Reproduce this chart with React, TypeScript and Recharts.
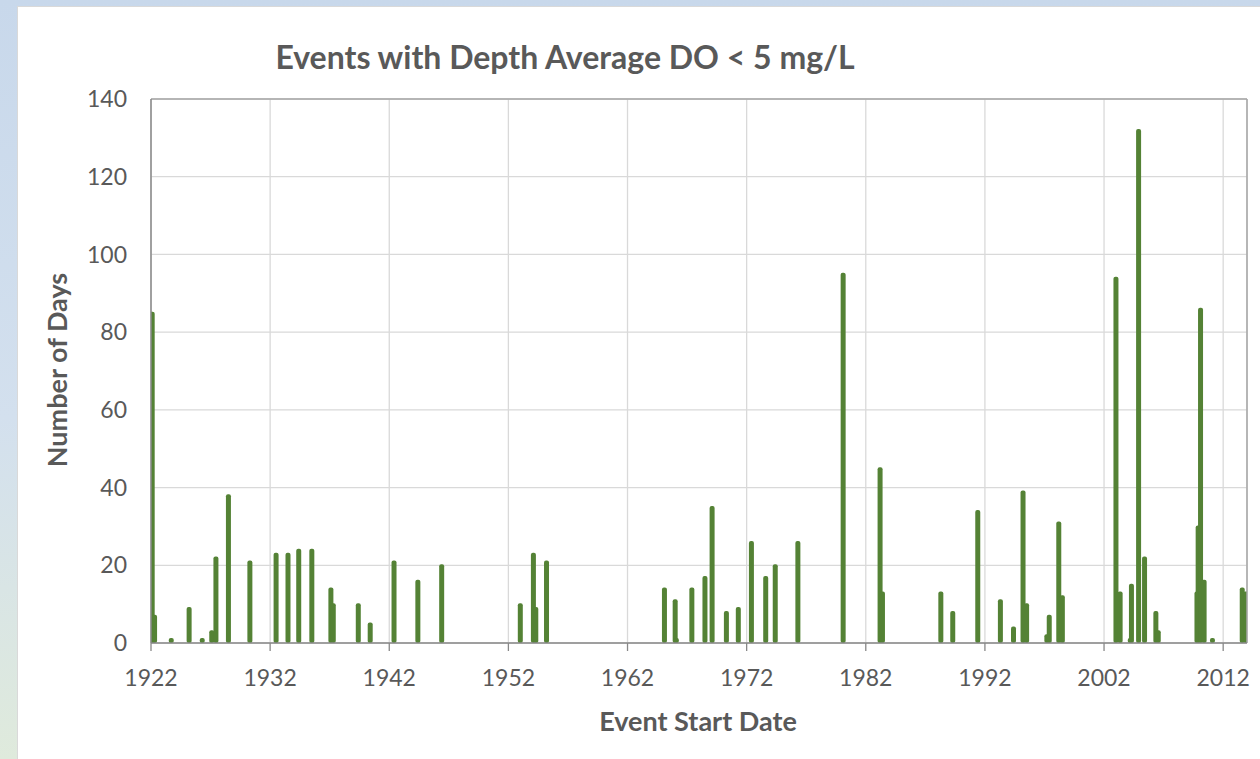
import { Bar, CartesianGrid, ComposedChart, ReferenceLine, XAxis, YAxis } from "recharts"

// event start (decimal year) and length in days
const eventYears = [
  1922.1, 1922.3, 1923.7, 1925.2, 1926.3, 1927.1, 1927.45, 1928.5, 1930.3, 1932.5,
  1933.5, 1934.4, 1935.5, 1937.1, 1937.3, 1939.4, 1940.4, 1942.4, 1944.4, 1946.4,
  1953.0, 1954.1, 1954.3, 1955.2, 1965.1, 1966.0, 1966.1, 1967.4, 1968.5, 1969.1,
  1970.3, 1971.3, 1972.4, 1973.6, 1974.4, 1976.3, 1980.1, 1983.2, 1983.4, 1988.3,
  1989.3, 1991.4, 1993.3, 1994.4, 1995.2, 1995.5, 1997.2, 1997.4, 1998.2, 1998.5,
  2003.0, 2003.35, 2004.2, 2004.3, 2004.9, 2005.4, 2006.35, 2006.55, 2009.8, 2009.9,
  2010.1, 2010.4, 2011.1, 2013.6, 2013.9,
]

const eventDays = [
  85, 7, 1, 9, 1, 3, 22, 38, 21, 23,
  23, 24, 24, 14, 10, 10, 5, 21, 16, 20,
  10, 23, 9, 21, 14, 11, 1, 14, 17, 35,
  8, 9, 26, 17, 20, 26, 95, 45, 13, 13,
  8, 34, 11, 4, 39, 10, 2, 7, 31, 12,
  94, 13, 1, 15, 132, 22, 8, 3, 13, 30,
  86, 16, 1, 14, 13,
]

const xTicks = [1922, 1932, 1942, 1952, 1962, 1972, 1982, 1992, 2002, 2012]
const yTicks = [0, 20, 40, 60, 80, 100, 120, 140]

const data = eventYears.map((year, i) => ({ year, days: eventDays[i] }))

const font = "Lato, 'Open Sans', sans-serif"
const textColor = "#595959"
const barColor = "#548235"
const barWidth = 5

// the band on a number axis is tiny, so draw a fixed-width column centred on the date
function EventBar(props: any) {
  const { x, y, width, height } = props
  if (height == null || height <= 0) return null
  const cx = x + width / 2
  return (
    <rect
      x={cx - barWidth / 2}
      y={y - 1}
      width={barWidth}
      height={height + 1}
      rx={2}
      ry={2}
      fill={barColor}
    />
  )
}

export default function App() {
  return (
    <div
      style={{
        position: "relative",
        width: 1260,
        height: 759,
        background: "linear-gradient(180deg, #c8d8eb 0%, #d3e0ee 55%, #dfeadc 100%)",
        fontFamily: font,
        overflow: "hidden",
      }}
    >
      <style>{`body{margin:0}`}</style>
      <div
        style={{
          position: "absolute",
          left: 17,
          top: 6,
          width: 1250,
          height: 760,
          background: "#fff",
          border: "1px solid #d9d9d9",
        }}
      />
      <div style={{ position: "absolute", left: 0, top: 0 }}>
        <ComposedChart
          width={1260}
          height={759}
          data={data}
          margin={{ top: 99, right: 13, left: 0, bottom: 0 }}
        >
          <CartesianGrid stroke="#d9d9d9" strokeWidth={1.3} />
          <XAxis
            dataKey="year"
            type="number"
            domain={[1922, 2014]}
            ticks={xTicks}
            allowDataOverflow
            height={116}
            axisLine={{ stroke: "#888888", strokeWidth: 1.5 }}
            tickLine={{ stroke: "#888888", strokeWidth: 1.3 }}
            tickSize={8}
            tickMargin={19}
            tick={{ fill: textColor, fontSize: 23, fontFamily: font }}
            interval={0}
          />
          <YAxis
            type="number"
            domain={[0, 140]}
            ticks={yTicks}
            width={151}
            axisLine={{ stroke: "#888888", strokeWidth: 1.5 }}
            tickLine={false}
            tickSize={0}
            tickMargin={24}
            tick={{ fill: textColor, fontSize: 23, fontFamily: font }}
            interval={0}
          />
          <ReferenceLine y={140} stroke="#a6a6a6" strokeWidth={1.5} />
          <ReferenceLine x={2014} stroke="#a6a6a6" strokeWidth={1.5} />
          <Bar dataKey="days" fill={barColor} shape={EventBar} isAnimationActive={false} />
        </ComposedChart>
      </div>
      <div
        style={{
          position: "absolute",
          left: 565,
          top: 56,
          transform: "translate(-50%, -50%)",
          fontSize: 32,
          fontWeight: 700,
          color: textColor,
          whiteSpace: "nowrap",
        }}
      >
        Events with Depth Average DO &lt; 5 mg/L
      </div>
      <div
        style={{
          position: "absolute",
          left: 698,
          top: 720,
          transform: "translate(-50%, -50%)",
          fontSize: 27,
          fontWeight: 700,
          color: textColor,
          whiteSpace: "nowrap",
        }}
      >
        Event Start Date
      </div>
      <div
        style={{
          position: "absolute",
          left: 56,
          top: 370,
          transform: "translate(-50%, -50%) rotate(-90deg)",
          fontSize: 27,
          fontWeight: 700,
          color: textColor,
          whiteSpace: "nowrap",
        }}
      >
        Number of Days
      </div>
    </div>
  )
}
